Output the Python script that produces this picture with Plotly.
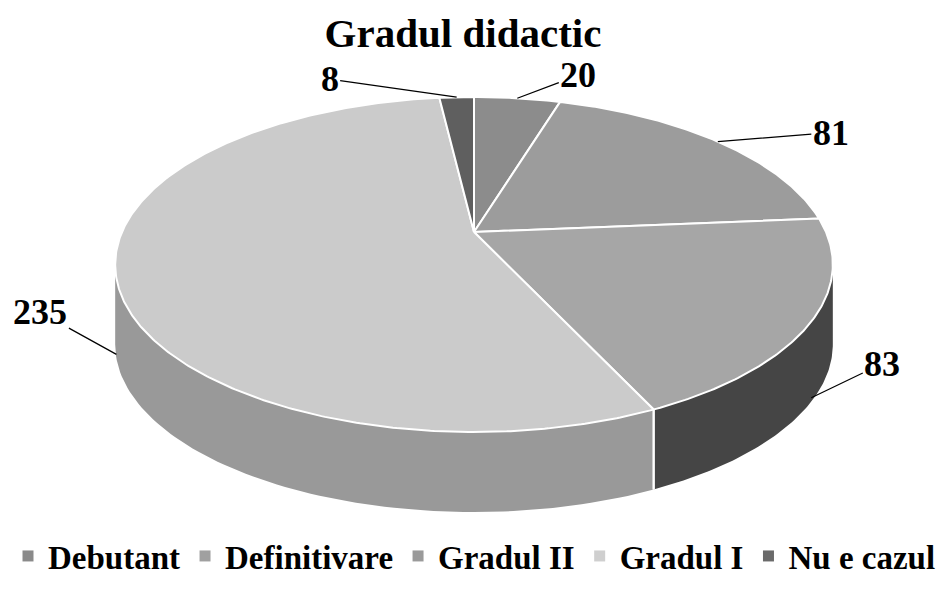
import numpy as np
import plotly.graph_objects as go

# ---- data ----
categories = ["Debutant", "Definitivare", "Gradul II", "Gradul I", "Nu e cazul"]
values = [20, 81, 83, 235, 8]
chart_title = "Gradul didactic"

# ---- styles ----
top_colors = ["#8c8c8c", "#9c9c9c", "#a6a6a6", "#cbcbcb", "#5f5f5f"]
side_colors = ["#6a6a6a", "#777777", "#454545", "#999999", "#404040"]
legend_colors = ["#8a8a8a", "#a0a0a0", "#9a9a9a", "#cfcfcf", "#6a6a6a"]
label_offsets = [(61, -23), (113, -9), (71, -34), (-76, -42), (-127, -18)]
FONT = "Liberation Serif, Times New Roman, serif"

W, H = 949, 590
CX, CY = 474, 232          # projected pie centre
A, B, K = 352, 161.2, 0.194  # radii and perspective factor
DEPTH = 80

def proj(theta_deg, drop=0.0):
    t = np.radians(theta_deg)
    u, v = np.sin(t), np.cos(t)
    s = 1.0 / (1.0 + K * v)
    return CX + A * u * s, CY - B * v * s + drop

total = float(sum(values))
spans = [v / total * 360.0 for v in values]
starts = np.concatenate([[0.0], np.cumsum(spans)[:-1]])
ends = starts + np.array(spans)

th_lo = np.degrees(np.arccos(-K))
th_hi = 360.0 - th_lo

fig = go.Figure()

# side walls (front visible part only)
for i, cat in enumerate(categories):
    lo, hi = max(starts[i], th_lo), min(ends[i], th_hi)
    if lo >= hi:
        continue
    arc = np.linspace(lo, hi, 80)
    xt, yt = proj(arc)
    xb, yb = proj(arc[::-1], DEPTH)
    fig.add_trace(go.Scatter(
        x=np.concatenate([xt, xb]), y=np.concatenate([yt, yb]),
        fill="toself", fillcolor=side_colors[i], mode="lines",
        line=dict(width=0, color=side_colors[i]),
        showlegend=False, hoverinfo="skip"))

# white separators on the side wall
for a in list(starts) + list(ends):
    if th_lo < a < th_hi:
        x0, y0 = proj(a)
        x1, y1 = proj(a, DEPTH)
        fig.add_trace(go.Scatter(x=[x0, x1], y=[y0, y1], mode="lines",
                                 line=dict(color="white", width=2),
                                 showlegend=False, hoverinfo="skip"))

# top faces
for i, cat in enumerate(categories):
    n = max(int(spans[i] * 2), 8)
    arc = np.linspace(starts[i], ends[i], n)
    xa, ya = proj(arc)
    fig.add_trace(go.Scatter(
        x=np.concatenate([[CX], xa, [CX]]), y=np.concatenate([[CY], ya, [CY]]),
        fill="toself", fillcolor=top_colors[i], mode="lines",
        line=dict(color="white", width=2),
        name=cat, showlegend=False, hoverinfo="text",
        text=f"{cat}: {values[i]}"))

# legend entries
for i, cat in enumerate(categories):
    fig.add_trace(go.Scatter(
        x=[None], y=[None], mode="markers", name=f"<b>{cat}</b>",
        marker=dict(symbol="square", size=11, color=legend_colors[i])))

# data labels with leader lines
for i, cat in enumerate(categories):
    mid = starts[i] + spans[i] / 2
    if th_lo < mid < th_hi:
        ax_, ay_ = proj(mid, DEPTH * 0.95)
    else:
        ax_, ay_ = proj(mid)
    dx, dy = label_offsets[i]
    fig.add_annotation(
        x=float(ax_), y=float(ay_), xref="x", yref="y",
        text=f"<b>{values[i]}</b>", showarrow=True, arrowhead=0,
        arrowwidth=1.2, arrowcolor="black", standoff=0,
        ax=dx, ay=dy,
        font=dict(family=FONT, size=36, color="black"))

fig.update_layout(
    width=W, height=H,
    margin=dict(l=0, r=0, t=0, b=0),
    paper_bgcolor="white", plot_bgcolor="white",
    font=dict(family=FONT, color="black"),
    title=dict(text=f"<b>{chart_title}</b>", x=463 / W, xanchor="center",
               y=1 - 33 / H, yanchor="middle",
               font=dict(family=FONT, size=41, color="black")),
    xaxis=dict(range=[0, W], visible=False, fixedrange=True),
    yaxis=dict(range=[H, 0], visible=False, fixedrange=True),
    legend=dict(orientation="h", x=0.5, xanchor="center",
                y=1 - 556 / H, yanchor="middle",
                font=dict(family=FONT, size=33, color="black"),
                itemwidth=30, tracegroupgap=0, bgcolor="rgba(0,0,0,0)"),
    showlegend=True,
)

fig.write_html("out.html",
               config={"displayModeBar": False},
               post_script="document.body.style.margin='0';document.body.style.padding='0';")
